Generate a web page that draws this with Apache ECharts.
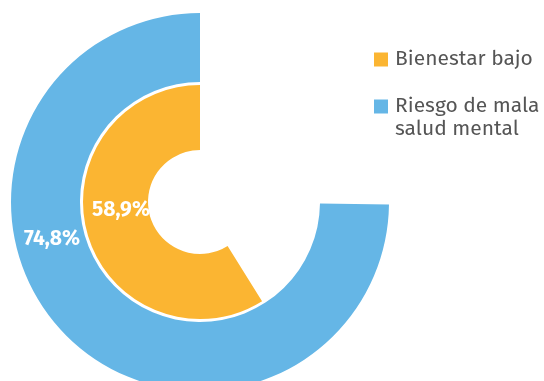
<!DOCTYPE html>
<html><head><meta charset="utf-8">
<script src="https://cdn.jsdelivr.net/npm/echarts@6/dist/echarts.min.js"></script>
<style>html,body{margin:0;padding:0;background:#fff}#c{width:544px;height:381px}</style>
</head><body><div id="c"></div>
<script>
const categories = ['Bienestar bajo', 'Riesgo de mala\nsalud mental'];
const values = [58.9, 74.8];
const labels = ['58,9%', '74,8%'];
const colors = ['#FBB532', '#65B6E6'];

const chart = echarts.init(document.getElementById('c'), null, {renderer: 'canvas'});
const font = 'Fira Sans, Roboto, sans-serif';
function ring(i, radius, labelPos) {
  return {
    type: 'pie',
    name: categories[i],
    center: [200, 202],
    radius: radius,
    startAngle: 90,
    clockwise: false,
    silent: true,
    avoidLabelOverlap: false,
    emphasis: {disabled: true},
    labelLine: {show: false},
    data: [
      {name: categories[i], value: values[i], itemStyle: {color: colors[i]},
       label: {show: true, position: 'inside', formatter: labels[i], color: '#fff',
               fontFamily: font, fontWeight: 'bold', fontSize: 21}},
      {name: 'resto' + i, value: 100 - values[i], itemStyle: {color: 'rgba(0,0,0,0)'},
       label: {show: false}}
    ],
    labelLayout: function (p) {
      if (p.dataIndex !== 0) return {};
      return {x: labelPos[0], y: labelPos[1], align: 'center', verticalAlign: 'middle'};
    }
  };
}
function legendFor(i, top, fmt) {
  return {
    data: [{name: categories[i], itemStyle: {color: colors[i]}}],
    orient: 'vertical', left: 374, top: top, padding: 0,
    itemWidth: 14, itemHeight: 14, icon: 'rect', itemGap: 0,
    formatter: fmt,
    textStyle: {color: '#555', fontSize: 21, fontFamily: font, lineHeight: 23, padding: [0, 0, 0, 2]}
  };
}
chart.setOption({
  animation: false,
  legend: [
    legendFor(0, 48),
    legendFor(1, 72, function (n) { return ' \n' + n; })
  ],
  series: [
    ring(1, [120, 189], [52, 239]),
    ring(0, [52, 117], [121, 210])
  ]
});
</script></body></html>
